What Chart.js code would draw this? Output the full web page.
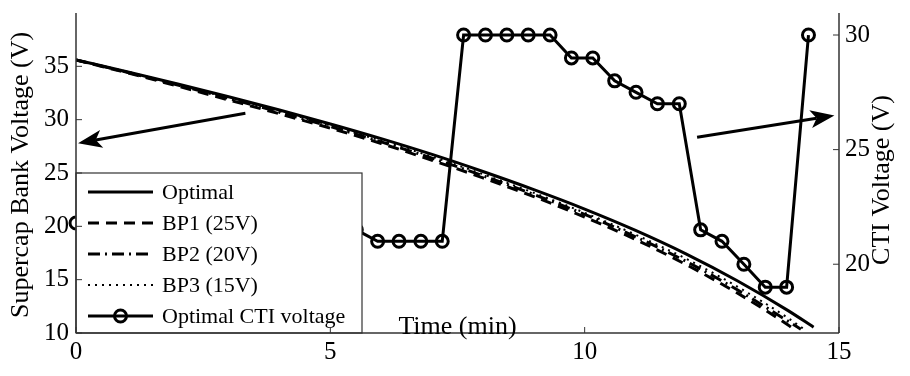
<!DOCTYPE html>
<html>
<head>
<meta charset="utf-8">
<script src="https://cdn.jsdelivr.net/npm/chart.js@4.4.1/dist/chart.umd.min.js"></script>
<style>
  html, body { margin: 0; padding: 0; background: #fff; }
  #wrap { width: 910px; height: 376px; }
</style>
</head>
<body>
<div id="wrap"><canvas id="chart" width="910" height="376"></canvas></div>
<script>
// Supercap bank voltage (left axis), time in minutes
const optTime = [0, 1, 2, 3, 4, 5, 6, 7, 8, 9, 10, 11, 12, 13, 14, 14.5];
const optV = [35.6, 34.5, 33.35, 32.15, 30.9, 29.6, 28.22, 26.74, 25.14, 23.44, 21.62, 19.62, 17.4, 14.9, 12.1, 10.55];

const bp1Time = [0, 1, 2, 3, 4, 5, 6, 7, 8, 9, 10, 11, 12, 13, 14, 14.1];
const bp1V = [35.6, 34.4, 33.15, 31.85, 30.55, 29.2, 27.77, 26.19, 24.54, 22.79, 20.87, 18.77, 16.4, 13.75, 10.75, 10.4];

const bp2Time = [0, 1, 2, 3, 4, 5, 6, 7, 8, 9, 10, 11, 12, 13, 14, 14.25];
const bp2V = [35.6, 34.45, 33.25, 32.0, 30.7, 29.35, 27.92, 26.39, 24.74, 22.99, 21.12, 19.02, 16.7, 14.05, 11.1, 10.35];

const bp3Time = [0, 1, 2, 3, 4, 5, 6, 7, 8, 9, 10, 11, 12, 13, 14, 14.3];
const bp3V = [35.6, 34.5, 33.3, 32.05, 30.8, 29.45, 28.02, 26.54, 24.89, 23.14, 21.27, 19.22, 16.95, 14.35, 11.4, 10.4];

// Optimal CTI voltage (right axis)
const ctiTime = [0, 0.42, 0.85, 1.27, 1.69, 2.12, 2.54, 2.96, 3.39, 3.81, 4.24, 4.66, 5.08, 5.51, 5.93, 6.35, 6.78, 7.2,
  7.62, 8.05, 8.47, 8.89, 9.32, 9.74, 10.16, 10.59, 11.01, 11.43, 11.86, 12.28, 12.7, 13.13, 13.55, 13.97, 14.4];
const ctiV = [21.8, 21.8, 21.8, 21.7, 21.7, 21.7, 21.6, 21.6, 21.6, 21.5, 21.5, 21.5, 21.5, 21.5, 21, 21, 21, 21,
  30, 30, 30, 30, 30, 29, 29, 28, 27.5, 27, 27, 21.5, 21, 20, 19, 19, 30];

const xTicks = [0, 5, 10, 15];
const leftTicks = [10, 15, 20, 25, 30, 35];
const rightTicks = [20, 25, 30];

const legendLabels = ["Optimal", "BP1 (25V)", "BP2 (20V)", "BP3 (15V)", "Optimal CTI voltage"];

// arrows, in (time, supercap voltage) units
const arrowLeft = { from: [3.33, 30.6], to: [0.04, 27.8] };
const arrowRight = { from: [12.21, 28.35], to: [14.91, 30.4] };

const FONT = '"Liberation Serif", "Times New Roman", serif';
const INK = "#000";
const AXIS = "#333";

function toPoints(xs, ys) {
  return xs.map((x, i) => ({ x: x, y: ys[i] }));
}

function line(ctx, x1, y1, x2, y2) {
  ctx.beginPath();
  ctx.moveTo(x1, y1);
  ctx.lineTo(x2, y2);
  ctx.stroke();
}

// Arrow with a notched head
function drawArrow(ctx, x1, y1, x2, y2) {
  const ang = Math.atan2(y2 - y1, x2 - x1);
  const c = Math.cos(ang), s = Math.sin(ang);
  const headLen = 24, headW = 9, notch = 6;
  const bx = x2 - headLen * c, by = y2 - headLen * s;
  ctx.lineWidth = 3;
  ctx.strokeStyle = INK;
  line(ctx, x1, y1, bx + notch * c, by + notch * s);
  ctx.fillStyle = INK;
  ctx.beginPath();
  ctx.moveTo(x2, y2);
  ctx.lineTo(bx - headW * s, by + headW * c);
  ctx.lineTo(bx + notch * c, by + notch * s);
  ctx.lineTo(bx + headW * s, by - headW * c);
  ctx.closePath();
  ctx.fill();
}

function drawAxes(chart) {
  const ctx = chart.ctx;
  const { left, right, bottom, top } = chart.chartArea;
  ctx.save();
  ctx.strokeStyle = AXIS;
  ctx.lineWidth = 1.5;
  line(ctx, left, top, left, bottom);
  line(ctx, right, top, right, bottom);
  line(ctx, left, bottom, right, bottom);
  ctx.lineWidth = 1;
  leftTicks.forEach((v) => {
    const y = chart.scales.y.getPixelForValue(v);
    line(ctx, left, y, left + 6, y);
  });
  rightTicks.forEach((v) => {
    const y = chart.scales.y2.getPixelForValue(v);
    line(ctx, right, y, right - 6, y);
  });
  xTicks.forEach((v) => {
    const x = chart.scales.x.getPixelForValue(v);
    line(ctx, x, bottom, x, bottom - 6);
  });
  ctx.restore();
}

function drawLegendBox(chart) {
  const ctx = chart.ctx;
  const { left, bottom } = chart.chartArea;
  const w = 286, h = 160;
  const top = bottom - h;
  ctx.save();
  ctx.fillStyle = "#fff";
  ctx.fillRect(left, top, w, h);
  ctx.strokeStyle = AXIS;
  ctx.lineWidth = 1.2;
  ctx.strokeRect(left, top, w, h);

  ctx.font = `22px ${FONT}`;
  ctx.textBaseline = "middle";
  ctx.textAlign = "left";
  chart.data.datasets.forEach((ds, i) => {
    const y = top + 19 + 31 * i;
    const x1 = left + 12, x2 = left + 77;
    ctx.strokeStyle = INK;
    ctx.lineWidth = ds.borderWidth;
    ctx.setLineDash(ds.borderDash || []);
    line(ctx, x1, y, x2, y);
    ctx.setLineDash([]);
    if (ds.pointRadius > 0) {
      ctx.lineWidth = ds.pointBorderWidth;
      ctx.beginPath();
      ctx.arc((x1 + x2) / 2, y, ds.pointRadius, 0, Math.PI * 2);
      ctx.stroke();
    }
    ctx.fillStyle = INK;
    ctx.fillText(ds.label, left + 86, y + 1);
  });
  ctx.restore();
}

function drawTitles(chart) {
  const ctx = chart.ctx;
  const { left, right, top, bottom } = chart.chartArea;
  ctx.save();
  ctx.fillStyle = INK;
  ctx.font = `26px ${FONT}`;
  ctx.textAlign = "center";
  ctx.textBaseline = "middle";

  ctx.save();
  ctx.translate(21, (top + bottom) / 2 + 2);
  ctx.rotate(-Math.PI / 2);
  ctx.fillText("Supercap Bank Voltage (V)", 0, 0);
  ctx.restore();

  ctx.save();
  ctx.translate(right + 43, (top + bottom) / 2 + 7);
  ctx.rotate(-Math.PI / 2);
  ctx.fillText("CTI Voltage (V)", 0, 0);
  ctx.restore();

  ctx.fillText("Time (min)", (left + right) / 2, bottom - 6);
  ctx.restore();
}

function drawArrows(chart) {
  const ctx = chart.ctx;
  const sx = chart.scales.x, sy = chart.scales.y;
  ctx.save();
  [arrowLeft, arrowRight].forEach((a) => {
    drawArrow(ctx,
      sx.getPixelForValue(a.from[0]), sy.getPixelForValue(a.from[1]),
      sx.getPixelForValue(a.to[0]), sy.getPixelForValue(a.to[1]));
  });
  ctx.restore();
}

const decorPlugin = {
  id: "decor",
  afterDatasetsDraw(chart) {
    drawLegendBox(chart);
  },
  afterDraw(chart) {
    drawAxes(chart);
    drawArrows(chart);
    drawTitles(chart);
  },
};

function curve(label, xs, ys, width, dash) {
  return {
    label: label,
    data: toPoints(xs, ys),
    yAxisID: "y",
    borderColor: INK,
    borderWidth: width,
    borderDash: dash,
    pointRadius: 0,
    cubicInterpolationMode: "monotone",
    fill: false,
  };
}

function tickOpts(padding) {
  return {
    color: INK,
    font: { family: FONT, size: 25 },
    padding: padding,
    autoSkip: false,
    maxRotation: 0,
  };
}

// fixed axis box sizes, no extra label padding
function fixBox(size) {
  return (s) => {
    if (s.isHorizontal()) s.height = size;
    else s.width = size;
    s.paddingTop = 0;
    s.paddingBottom = 0;
    s.paddingLeft = 0;
    s.paddingRight = 0;
  };
}

window.onload = () => {
  const ctx = document.getElementById("chart").getContext("2d");
  new Chart(ctx, {
    type: "line",
    data: {
      datasets: [
        curve(legendLabels[0], optTime, optV, 3, []),
        curve(legendLabels[1], bp1Time, bp1V, 3, [11, 7]),
        curve(legendLabels[2], bp2Time, bp2V, 3, [12, 5, 2, 5]),
        curve(legendLabels[3], bp3Time, bp3V, 2, [2, 5]),
        {
          label: legendLabels[4],
          data: toPoints(ctiTime, ctiV),
          yAxisID: "y2",
          borderColor: INK,
          borderWidth: 3,
          tension: 0,
          pointRadius: 6,
          pointBorderWidth: 3,
          pointBorderColor: INK,
          pointBackgroundColor: "rgba(0,0,0,0)",
          clip: false,
          fill: false,
        },
      ],
    },
    options: {
      responsive: false,
      animation: false,
      devicePixelRatio: 1,
      layout: { padding: { top: 13, left: 0, right: 0, bottom: 0 } },
      plugins: {
        legend: { display: false },
        tooltip: { enabled: false },
      },
      scales: {
        x: {
          type: "linear",
          position: "bottom",
          min: 0,
          max: 15,
          grid: { display: false, drawTicks: false },
          border: { display: false },
          afterBuildTicks: (s) => { s.ticks = xTicks.map((v) => ({ value: v })); },
          afterFit: fixBox(43),
          ticks: tickOpts(4),
        },
        y: {
          position: "left",
          min: 10,
          max: 40,
          grid: { display: false, drawTicks: false },
          border: { display: false },
          afterBuildTicks: (s) => { s.ticks = leftTicks.map((v) => ({ value: v })); },
          afterFit: fixBox(76),
          ticks: tickOpts(7),
        },
        y2: {
          position: "right",
          min: 17,
          max: 30.96,
          grid: { display: false, drawTicks: false },
          border: { display: false },
          afterBuildTicks: (s) => { s.ticks = rightTicks.map((v) => ({ value: v })); },
          afterFit: fixBox(71),
          ticks: tickOpts(6),
        },
      },
    },
    plugins: [decorPlugin],
  });
};
</script>
</body>
</html>
